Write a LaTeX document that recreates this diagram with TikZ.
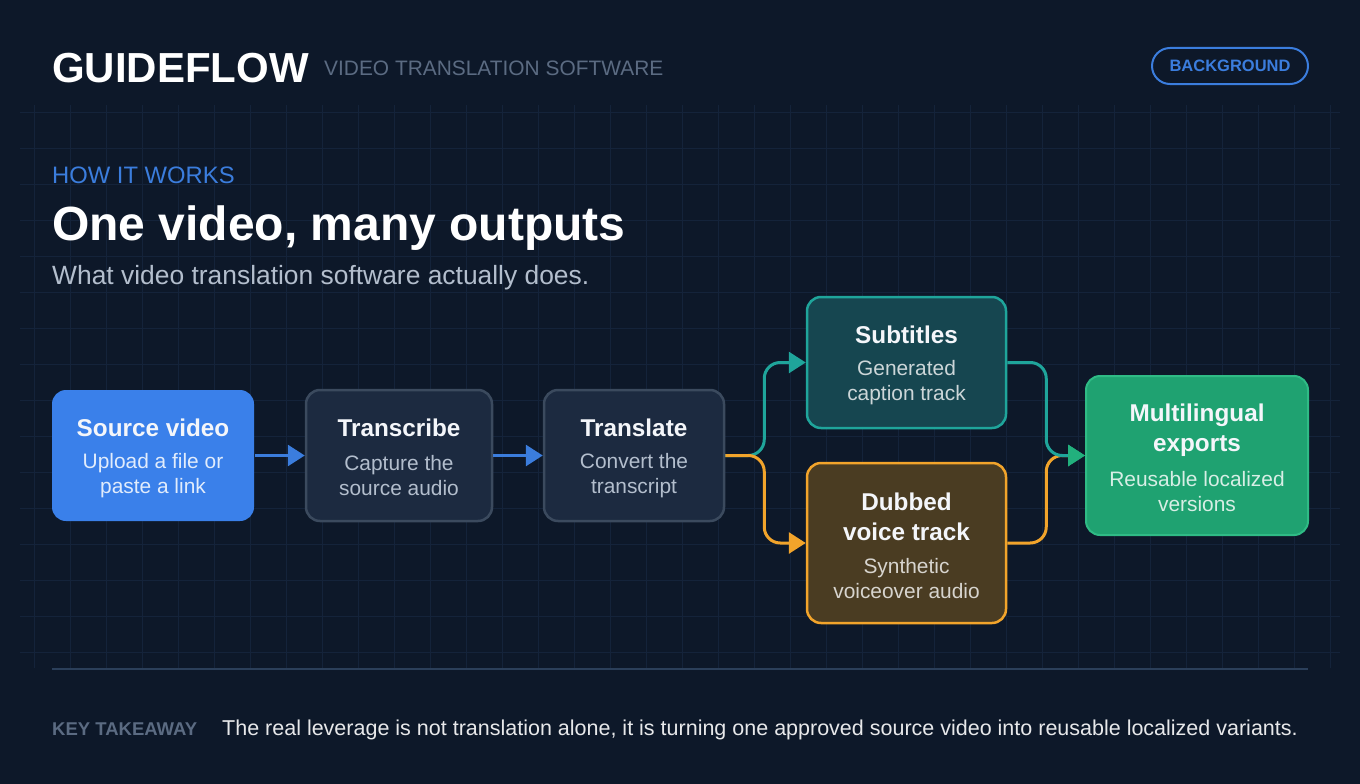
\documentclass[tikz,border=0pt]{standalone}
\usepackage{fontspec}
\setmainfont{Liberation Sans}
\usetikzlibrary{arrows.meta}

\definecolor{bgnavy}{HTML}{0D1829}
\definecolor{gridc}{HTML}{14233A}
\definecolor{brandblue}{HTML}{3B7DDD}
\definecolor{srcfill}{HTML}{3A80EA}
\definecolor{nfill}{HTML}{1C2A40}
\definecolor{ndraw}{HTML}{3B4A5E}
\definecolor{tealdraw}{HTML}{1FA59B}
\definecolor{tealfill}{HTML}{164650}
\definecolor{ordraw}{HTML}{F2A42B}
\definecolor{orfill}{HTML}{4A3C22}
\definecolor{grfill}{HTML}{1FA271}
\definecolor{grdraw}{HTML}{2FBB85}
\definecolor{grtip}{HTML}{22B07D}
\definecolor{txtwhite}{HTML}{F4F6FA}
\definecolor{txtmuted}{HTML}{5B6B82}
\definecolor{txtsoft}{HTML}{B3BECD}
\definecolor{divline}{HTML}{2B3F5A}

\begin{document}
\begin{tikzpicture}[x=1pt, y=-1pt]
  \tikzset{
    box/.style={rounded corners=14pt, line width=2.5pt, inner sep=0pt},
    ttl/.style={font=\fontsize{24.3}{30}\selectfont\bfseries, text=txtwhite, align=center},
    sbt/.style={font=\fontsize{20.9}{25}\selectfont, align=center},
    flow/.style={line width=3pt, rounded corners=16pt, -{Triangle[length=17pt, width=21pt]}}
  }

  % Background and grid
  \useasboundingbox (0,0) rectangle (1360,784);
  \fill[bgnavy] (0,0) rectangle (1360,784);
  \foreach \gx in {34,70,...,1330} \draw[gridc, line width=0.8pt] (\gx,105) -- (\gx,668);
  \foreach \gy in {112,148,...,668} \draw[gridc, line width=0.8pt] (20,\gy) -- (1340,\gy);

  % Header
  \node[anchor=base west, inner sep=0pt, font=\fontsize{42}{42}\selectfont\bfseries, text=white] (brand) at (52,82) {GUIDEFLOW};
  \node[anchor=base west, inner sep=0pt, font=\fontsize{20.9}{20.9}\selectfont, text=txtmuted] (tag) at (324,75) {VIDEO TRANSLATION SOFTWARE};
  \node[draw=brandblue, line width=2pt, rounded corners=18pt, minimum width=156pt, minimum height=36pt, font=\fontsize{16.5}{16.5}\selectfont\bfseries, text=brandblue] (pill) at (1230,66) {BACKGROUND};

  % Headline
  \node[anchor=base west, inner sep=0pt, font=\fontsize{23.8}{23.8}\selectfont, text=brandblue] (kicker) at (52,183) {HOW IT WORKS};
  \node[anchor=base west, inner sep=0pt, font=\fontsize{48}{48}\selectfont\bfseries, text=white] (headline) at (52,240) {One video, many outputs};
  \node[anchor=base west, inner sep=0pt, font=\fontsize{26.4}{26.4}\selectfont, text=txtsoft] (lede) at (52,284) {What video translation software actually does.};

  % Steps
  \node[box, fill=srcfill, minimum width=202pt, minimum height=131pt] (src) at (153,455.5) {};
  \node[ttl] (srcT) at (153,428) {Source video};
  \node[sbt, text=white!85!srcfill] (srcS) at (153,476) {Upload a file or\\paste a link};

  \node[box, draw=ndraw, fill=nfill, minimum width=186pt, minimum height=131pt] (trs) at (399,455.5) {};
  \node[ttl] (trsT) at (399,428) {Transcribe};
  \node[sbt, text=txtsoft] (trsS) at (399,476) {Capture the\\source audio};

  \node[box, draw=ndraw, fill=nfill, minimum width=180pt, minimum height=131pt] (trl) at (634,455.5) {};
  \node[ttl] (trlT) at (634,428) {Translate};
  \node[sbt, text=txtsoft] (trlS) at (634,476) {Convert the\\transcript};

  % Outputs
  \node[box, draw=tealdraw, fill=tealfill, minimum width=199pt, minimum height=131pt] (sub) at (906.5,362.5) {};
  \node[ttl] (subT) at (906.5,335) {Subtitles};
  \node[sbt, text=white!78!tealfill] (subS) at (906.5,382.5) {Generated\\caption track};

  \node[box, draw=ordraw, fill=orfill, minimum width=199pt, minimum height=160pt] (dub) at (906.5,543) {};
  \node[ttl] (dubT) at (906.5,517) {Dubbed\\voice track};
  \node[sbt, text=white!78!orfill] (dubS) at (906.5,578.5) {Synthetic\\voiceover audio};

  \node[box, draw=grdraw, line width=2pt, fill=grfill, minimum width=222pt, minimum height=159pt] (mul) at (1197,455.5) {};
  \node[ttl] (mulT) at (1197,430.5) {Multilingual\\exports};
  \node[sbt, text=white!82!grfill] (mulS) at (1197,491.5) {Reusable localized\\versions};

  % Connectors
  \draw[flow, brandblue] (src.east) -- (trs.west);
  \draw[flow, brandblue] (trs.east) -- (trl.west);
  \draw[flow, tealdraw] (trl.east) -- ++(39,0) |- (sub.west);
  \draw[flow, ordraw] (trl.east) -- ++(39,0) |- (dub.west);
  \draw[flow, ordraw, -{Triangle[length=17pt, width=21pt, color=grtip]}] (dub.east) -- ++(39,0) |- (mul.west);
  \draw[flow, tealdraw, -{Triangle[length=17pt, width=21pt, color=grtip]}] (sub.east) -- ++(39,0) |- (mul.west);

  % Footer
  \draw[divline, line width=2pt] (52,669) -- (1308,669);
  \node[anchor=base west, inner sep=0pt, font=\fontsize{18.5}{18.5}\selectfont\bfseries, text=txtmuted] (keylbl) at (52,735) {KEY TAKEAWAY};
  \node[anchor=base west, inner sep=0pt, font=\fontsize{21.5}{21.5}\selectfont, text=white!90!bgnavy] (keytxt) at (222,735) {The real leverage is not translation alone, it is turning one approved source video into reusable localized variants.};
\end{tikzpicture}
\end{document}
